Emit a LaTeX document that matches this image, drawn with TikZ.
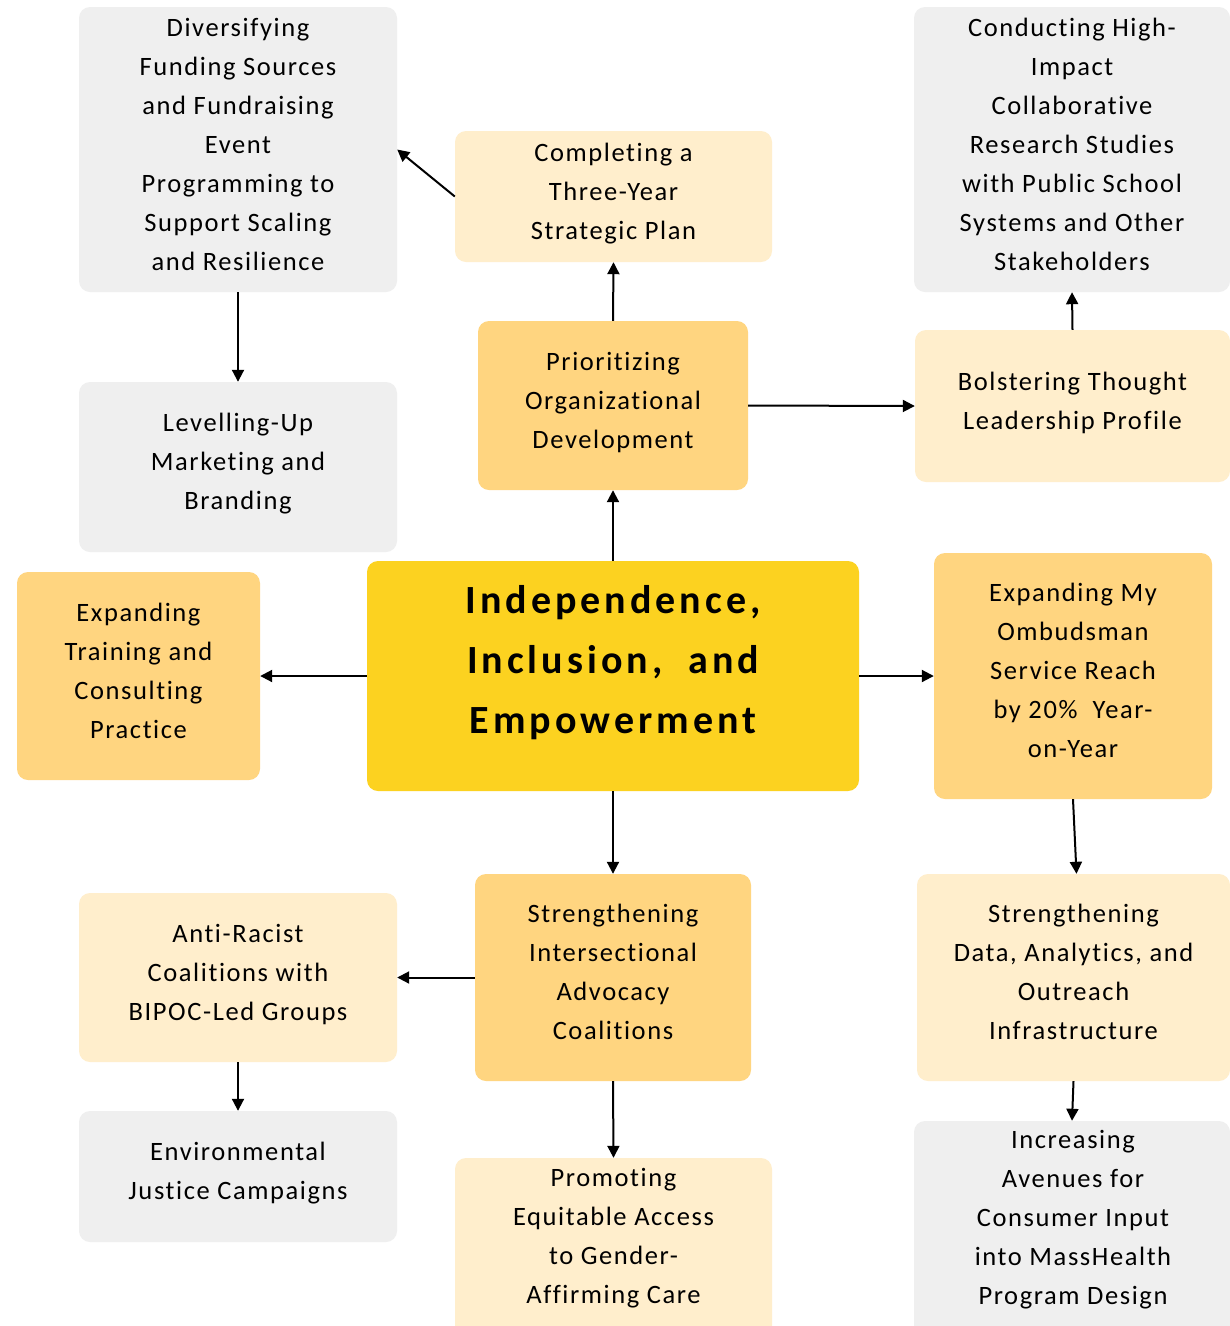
\documentclass[tikz,border=0pt]{standalone}
\usepackage{fontspec}
\setmainfont{Carlito}[LetterSpace=6,Ligatures=NoCommon]
\newfontfamily\titlefont{Carlito}[LetterSpace=10,Ligatures=NoCommon]
\usetikzlibrary{arrows.meta}
\definecolor{boxgray}{HTML}{EFEFEF}
\definecolor{boxlight}{HTML}{FFEECC}
\definecolor{boxmid}{HTML}{FFD580}
\definecolor{boxcore}{HTML}{FCD220}
\tikzset{
  box/.style={rectangle, rounded corners=11pt, align=center, inner sep=0pt, draw=none,
    text depth=11pt, font=\fontsize{26.5}{39}\selectfont},
  txt/.style={align=center, inner sep=0pt, font=\fontsize{26.5}{39}\selectfont},
  arr/.style={-{Triangle[length=12pt,width=12pt]}, line width=2pt, black},
}
\begin{document}
\begin{tikzpicture}[x=1pt,y=-1pt]
\clip (0,0) rectangle (1230,1326);
\fill[white] (0,0) rectangle (1230,1326);
% row 1
\node[box, fill=boxgray, minimum width=318pt, minimum height=285pt] (div) at (238,149.5)
  {Diversifying\\Funding Sources\\and Fundraising\\Event\\Programming to\\Support Scaling\\and Resilience};
\node[box, fill=boxlight, minimum width=317pt, minimum height=131pt] (comp) at (613.5,196.5)
  {Completing a\\Three-Year\\Strategic Plan};
\node[box, fill=boxgray, minimum width=316pt, minimum height=285pt] (cond) at (1072,149.5)
  {Conducting High-\\Impact\\Collaborative\\Research Studies\\with Public School\\Systems and Other\\Stakeholders};
% row 2
\node[box, fill=boxgray, minimum width=318pt, minimum height=170pt] (lev) at (238,467)
  {Levelling-Up\\Marketing and\\Branding};
\node[box, fill=boxmid, minimum width=270pt, minimum height=169pt] (prio) at (613,405.5)
  {Prioritizing\\Organizational\\Development};
\node[box, fill=boxlight, minimum width=315pt, minimum height=152pt] (bols) at (1072.5,406)
  {Bolstering Thought\\Leadership Profile};
% row 3
\node[box, fill=boxmid, minimum width=243pt, minimum height=208pt] (train) at (138.5,676)
  {Expanding\\Training and\\Consulting\\Practice};
\node[box, fill=boxcore, minimum width=492pt, minimum height=230pt] (cen) at (613,676) {};
\node[txt, font=\titlefont\bfseries\fontsize{40}{60}\selectfont] (centext) at (613,663)
  {Independence,\\Inclusion,\ \ and\\Empowerment};
\node[box, fill=boxmid, minimum width=278pt, minimum height=246pt] (omb) at (1073,676)
  {Expanding My\\Ombudsman\\Service Reach\\by 20\%\ \ Year-\\on-Year};
% row 4
\node[box, fill=boxlight, minimum width=318pt, minimum height=169pt] (anti) at (238,977.5)
  {Anti-Racist\\Coalitions with\\BIPOC-Led Groups};
\node[box, fill=boxmid, minimum width=276pt, minimum height=207pt] (inter) at (613,977.5)
  {Strengthening\\Intersectional\\Advocacy\\Coalitions};
\node[box, fill=boxlight, minimum width=313pt, minimum height=207pt] (data) at (1073.5,977.5)
  {Strengthening\\Data, Analytics, and\\Outreach\\Infrastructure};
% row 5
\node[box, fill=boxgray, minimum width=318pt, minimum height=131pt] (env) at (238,1176.5)
  {Environmental\\Justice Campaigns};
\node[box, fill=boxlight, minimum width=317pt, minimum height=190pt] (prom) at (613.5,1253) {};
\node[txt] (promtext) at (613.5,1238)
  {Promoting\\Equitable Access\\to Gender-\\Affirming Care};
\node[box, fill=boxgray, minimum width=316pt, minimum height=229pt] (inc) at (1072,1235.5) {};
\node[txt] (inctext) at (1073,1220)
  {Increasing\\Avenues for\\Consumer Input\\into MassHealth\\Program Design};
% connectors
\draw[arr] (comp.west) -- (div.east);
\draw[arr] (div.south) -- (lev.north);
\draw[arr] (prio.north) -- (comp.south);
\draw[arr] (cen.north) -- (prio.south);
\draw[arr] (prio.east) -- (bols.west);
\draw[arr] (bols.north) -- (cond.south);
\draw[arr] (cen.west) -- (train.east);
\draw[arr] (cen.east) -- (omb.west);
\draw[arr] (omb.south) -- ([xshift=3pt]data.north);
\draw[arr] (cen.south) -- (inter.north);
\draw[arr] (inter.west) -- (anti.east);
\draw[arr] (inter.south) -- (prom.north);
\draw[arr] (anti.south) -- (env.north);
\draw[arr] (data.south) -- (inc.north);
\end{tikzpicture}
\end{document}
